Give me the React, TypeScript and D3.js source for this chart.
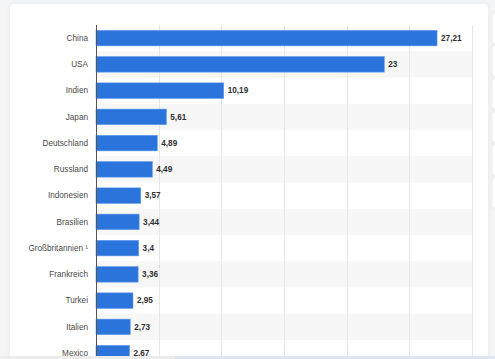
import { useEffect, useRef } from "react";
import * as d3 from "d3";

const countries = [
  "China",
  "USA",
  "Indien",
  "Japan",
  "Deutschland",
  "Russland",
  "Indonesien",
  "Brasilien",
  "Großbritannien ¹",
  "Frankreich",
  "Turkei",
  "Italien",
  "Mexico",
];
const values = [27.21, 23, 10.19, 5.61, 4.89, 4.49, 3.57, 3.44, 3.4, 3.36, 2.95, 2.73, 2.67];
const gridTicks = [0, 5, 10, 15, 20, 25, 30];

export default function App() {
  const ref = useRef<SVGSVGElement>(null);

  useEffect(() => {
    if (!ref.current) return;
    const svg = d3.select(ref.current);
    svg.selectAll("*").remove();

    const width = 495;
    const height = 359;
    const plotLeft = 96;
    const plotRight = 472;
    const plotTop = 25;
    const step = 26.25;

    const data = countries.map((c, i) => ({ name: c, value: values[i] }));
    const de = d3.formatLocale({ decimal: ",", thousands: ".", grouping: [3], currency: ["", "€"] });
    const fmt = (v: number) => de.format(",~r")(v);

    const x = d3.scaleLinear().domain([0, 30]).range([plotLeft, plotRight]);
    const y = d3
      .scaleBand()
      .domain(countries)
      .range([plotTop, plotTop + step * countries.length])
      .paddingInner(0.41)
      .paddingOuter(0.205);
    const gap = (y.step() - y.bandwidth()) / 2;

    // page background + card
    svg.append("rect").attr("width", width).attr("height", height).attr("fill", "#f4f5f7");
    const defs = svg.append("defs");
    const f = defs.append("filter").attr("id", "sh").attr("x", "-10%").attr("y", "-10%").attr("width", "120%").attr("height", "120%");
    f.append("feDropShadow").attr("dx", 0).attr("dy", 0).attr("stdDeviation", 2).attr("flood-color", "#000").attr("flood-opacity", 0.06);

    svg.append("rect")
      .attr("x", 10).attr("y", 4).attr("width", 478).attr("height", 380).attr("rx", 4)
      .attr("fill", "#fff").attr("filter", "url(#sh)");

    // side buttons (mostly off screen)
    svg.append("g")
      .selectAll("rect")
      .data(d3.range(6))
      .join("rect")
      .attr("x", 492).attr("y", (d) => 13 + d * 33).attr("width", 20).attr("height", 30).attr("rx", 3)
      .attr("fill", "#fff").attr("stroke", "#eef0f2").attr("filter", "url(#sh)");

    // row stripes
    svg.append("g")
      .selectAll("rect")
      .data(data.filter((_, i) => i % 2 === 1))
      .join("rect")
      .attr("x", plotLeft)
      .attr("y", (d) => (y(d.name) ?? 0) - gap)
      .attr("width", plotRight - plotLeft)
      .attr("height", y.step())
      .attr("fill", "#f7f7f7");

    // gridlines
    svg.append("g")
      .selectAll("line")
      .data(gridTicks.slice(1))
      .join("line")
      .attr("x1", (d) => Math.round(x(d)) + 0.5)
      .attr("x2", (d) => Math.round(x(d)) + 0.5)
      .attr("y1", plotTop)
      .attr("y2", height)
      .attr("stroke", "#e6e6e6");

    // bars
    svg.append("g")
      .selectAll("rect")
      .data(data)
      .join("rect")
      .attr("x", x(0))
      .attr("y", (d) => y(d.name) ?? 0)
      .attr("width", (d) => x(d.value) - x(0))
      .attr("height", y.bandwidth())
      .attr("fill", "#2a74dc")
      .attr("stroke", "#5b97ea")
      .attr("stroke-width", 0.6);

    // value labels
    svg.append("g")
      .selectAll("text")
      .data(data)
      .join("text")
      .attr("x", (d) => x(d.value) + 4)
      .attr("y", (d) => (y(d.name) ?? 0) + y.bandwidth() / 2)
      .attr("dy", "0.35em")
      .attr("font-family", "Liberation Sans, Arial, sans-serif")
      .attr("font-size", 8.2)
      .attr("font-weight", "bold")
      .attr("fill", "#2f2f2f")
      .text((d) => fmt(d.value));

    // category axis
    const yAxis = svg.append("g")
      .attr("transform", `translate(${plotLeft},0)`)
      .call(d3.axisLeft(y).tickSize(0).tickPadding(8));
    yAxis.select(".domain").attr("stroke", "#555").attr("d", `M0.5,${plotTop}V${height}`);
    yAxis.selectAll("text")
      .attr("font-family", "Liberation Sans, Arial, sans-serif")
      .attr("font-size", 8.2)
      .attr("fill", "#4a4a4a");

    // bottom scroll strip
    svg.append("rect").attr("x", 0).attr("y", 356).attr("width", 175).attr("height", 3).attr("fill", "#ececec");
    svg.append("rect").attr("x", 175).attr("y", 356).attr("width", 320).attr("height", 3).attr("fill", "#dde6f1");
  }, []);

  return (
    <div style={{ position: "absolute", left: 0, top: 0 }}>
      <svg ref={ref} width={495} height={359} style={{ display: "block" }} />
    </div>
  );
}
